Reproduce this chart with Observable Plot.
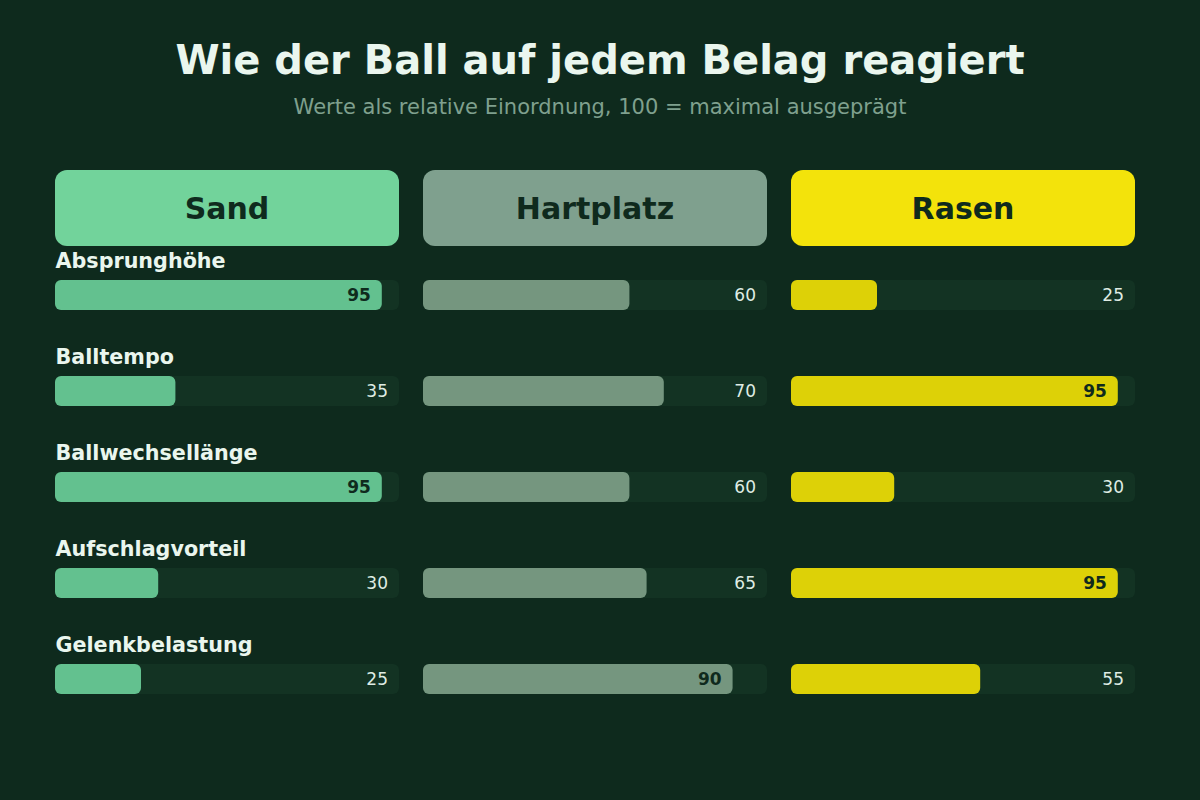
<!DOCTYPE html>
<html>
<head>
<meta charset="utf-8">
<script src="https://cdn.jsdelivr.net/npm/d3@7"></script>
<script src="https://cdn.jsdelivr.net/npm/@observablehq/plot@0.6"></script>
<style>
  html, body { margin: 0; padding: 0; background: #0e2a1d; }
  #page { position: relative; width: 1200px; height: 800px; background: #0e2a1d; font-family: "DejaVu Sans", sans-serif; overflow: hidden; }
  #title { position: absolute; left: 0; width: 1200px; top: 35px; text-align: center; font-size: 40px; font-weight: bold; color: #eaf6ee; line-height: 50px; }
  #subtitle { position: absolute; left: 0; width: 1200px; top: 95px; text-align: center; font-size: 21px; color: #7fa08e; line-height: 24px; }
  #headers { position: absolute; left: 55px; top: 170px; width: 1080px; height: 76px; display: flex; gap: 24px; }
  #headers div { flex: 1; border-radius: 12px; display: flex; align-items: center; justify-content: center; font-size: 30px; font-weight: bold; color: #0f2a1d; }
  #chart { position: absolute; left: 0; top: 246px; }
</style>
</head>
<body>
<div id="page">
  <div id="title">Wie der Ball auf jedem Belag reagiert</div>
  <div id="subtitle">Werte als relative Einordnung, 100 = maximal ausgeprägt</div>
  <div id="headers"></div>
  <div id="chart"></div>
</div>
<script>
const surfaces = ["Sand", "Hartplatz", "Rasen"];
const criteria = ["Absprunghöhe", "Balltempo", "Ballwechsellänge", "Aufschlagvorteil", "Gelenkbelastung"];
const sandValues = [95, 35, 95, 30, 25];
const hartplatzValues = [60, 70, 60, 65, 90];
const rasenValues = [25, 95, 30, 95, 55];
const maxValue = 100;
const highlightThreshold = 90;

const headerColors = ["#72d39b", "#7fa08e", "#f3e30b"];
const barColors = ["#63c18f", "#75967f", "#ddd107"];

const seriesBySurface = [sandValues, hartplatzValues, rasenValues];
const rows = [];
surfaces.forEach((s, si) => {
  criteria.forEach((c, ci) => {
    rows.push({surface: s, criterion: c, value: seriesBySurface[si][ci]});
  });
});

// headers
const hdr = document.getElementById("headers");
surfaces.forEach((s, i) => {
  const d = document.createElement("div");
  d.textContent = s;
  d.style.background = headerColors[i];
  hdr.appendChild(d);
});

const strong = rows.filter(d => d.value >= highlightThreshold);
const weak = rows.filter(d => d.value < highlightThreshold);

const plot = Plot.plot({
  width: 1200,
  height: 554,
  marginLeft: 55,
  marginRight: 65,
  marginTop: 0,
  marginBottom: 0,
  style: {background: "transparent", fontFamily: "DejaVu Sans, sans-serif"},
  fx: {domain: surfaces, paddingInner: 24 / 368, paddingOuter: 0, axis: null, label: null},
  x: {domain: [0, maxValue], axis: null},
  y: {domain: criteria, range: [34, 448], paddingInner: 0.6875, paddingOuter: 0, axis: null},
  color: {domain: surfaces, range: barColors},
  marks: [
    Plot.barX(rows, {fx: "surface", y: "criterion", x1: 0, x2: () => maxValue, fill: "#133323", rx: 6}),
    Plot.barX(rows, {fx: "surface", y: "criterion", x1: 0, x2: "value", fill: "surface", rx: 6}),
    Plot.text(criteria, {fx: () => surfaces[0], y: d => d, x: () => 0, text: d => d, textAnchor: "start", dy: -34, fontSize: 20.7, fontWeight: "bold", fill: "#eaf6ee"}),
    Plot.text(strong, {fx: "surface", y: "criterion", x: "value", text: d => String(d.value), textAnchor: "end", dx: -11.5, fontSize: 17, fontWeight: "bold", fill: "#0f2a1d"}),
    Plot.text(weak, {fx: "surface", y: "criterion", x: () => maxValue, text: d => String(d.value), textAnchor: "end", dx: -11.5, fontSize: 17, fill: "#dfece4"})
  ]
});
document.getElementById("chart").appendChild(plot);
</script>
</body>
</html>
